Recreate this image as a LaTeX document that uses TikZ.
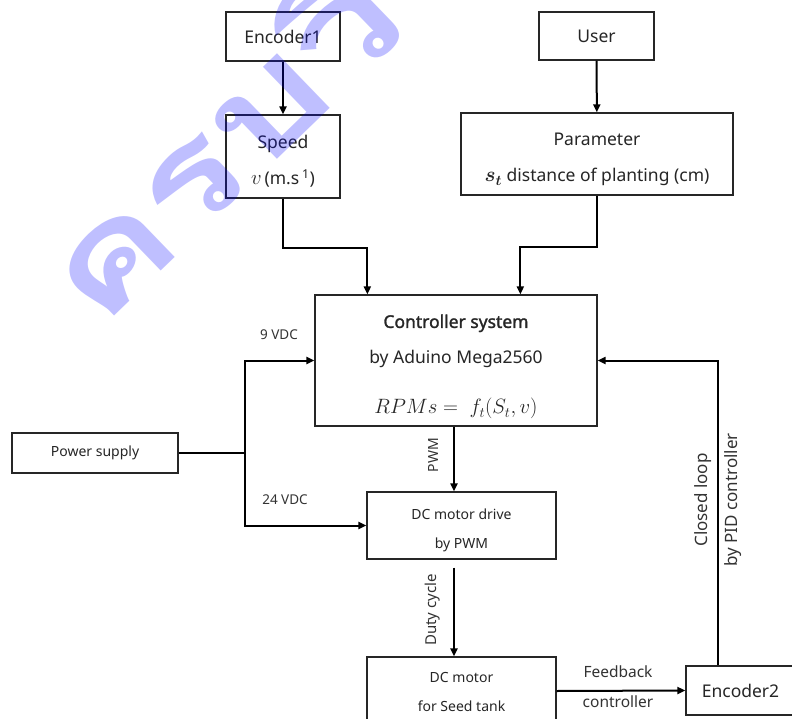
\documentclass[tikz,border=0pt]{standalone}
\usepackage{fontspec}
\usepackage{graphicx}
\setmainfont{Noto Sans}
\newfontfamily\semib[FakeBold=1.6]{Noto Sans}
\newfontfamily\thaifont[Script=Thai]{Loma}
\usepackage{bm}
\usetikzlibrary{arrows.meta,calc}
\tikzset{
  box/.style={draw=black!85, line width=1.3pt, fill=none, inner sep=0pt, align=center, text=black!85},
  big/.style={font=\fontsize{17.5}{36}\selectfont},
  small/.style={font=\fontsize{14}{29}\selectfont},
  lbl/.style={text=black!80, inner sep=0pt, font=\fontsize{13.5}{16}\selectfont},
  arr/.style={line width=2pt, -{Triangle[length=8pt,width=7pt]}},
  wire/.style={line width=2pt}
}
\begin{document}
\begin{tikzpicture}[x=1pt,y=-1pt]
\useasboundingbox (0,0) rectangle (792,719);
\clip (0,0) rectangle (792,719);
\fill[white] (0,0) rectangle (792,719);

% boxes
\node[box,big,minimum width=114pt,minimum height=49pt] (enc1) at (283,36.5) {Encoder1};
\node[box,big,minimum width=114pt,minimum height=83pt] (speed) at (283,156.5)
  {\rule{0pt}{23pt}Speed\\{\fontsize{21}{36}\selectfont$v$}\,(m.s\,\textsuperscript{1})};
\node[box,big,minimum width=115pt,minimum height=48pt] (user) at (596.5,36) {User};
\node[box,big,minimum width=272pt,minimum height=82pt] (param) at (597,154)
  {\rule{0pt}{24pt}Parameter\\{\fontsize{20}{36}\selectfont\boldmath$s_t$} distance of planting (cm)};
\node[box,big,minimum width=282pt,minimum height=131pt] (ctrl) at (456,360.5)
  {\rule{0pt}{26pt}{\semib Controller system}\\by Aduino Mega2560\\[14pt]{\fontsize{22}{30}\selectfont $RPMs =\ f_t(S_t,v)$}};
\node[box,small,minimum width=166pt,minimum height=40pt] (ps) at (95,453) {Power supply};
\node[box,small,minimum width=189pt,minimum height=67pt] (drive) at (461.5,525.5)
  {\rule{0pt}{20pt}DC motor drive\\by PWM};
\node[box,small,minimum width=189pt,minimum height=68pt] (motor) at (461.5,691)
  {\rule{0pt}{13pt}DC motor\\for Seed tank};
\node[box,big,minimum width=109pt,minimum height=49pt] (enc2) at (740.5,690.5) {Encoder2};

% connectors
\draw[arr] (enc1) -- (speed);
\draw[arr] (user) -- (param);
\draw[arr] (speed.south) -- ++(0,49) -| ($(ctrl.north west)+(53,0)$);
\draw[arr] (param.south) -- ++(0,51) -| ($(ctrl.north west)+(206,0)$);
\coordinate (j) at (245,453);
\draw[wire,line width=2.4pt] (ps.east) -- (j);
\draw[arr] (j) |- (ctrl.west);
\draw[arr] (j) |- (drive.west);
\coordinate (pwmtop) at ($(ctrl.south)+(-2,0)$);
\draw[arr] (pwmtop) -- (pwmtop |- drive.north);
\coordinate (dutytop) at ($(drive.south)+(-7.5,8)$);
\draw[arr] (dutytop) -- (dutytop |- motor.north);
\draw[arr] (motor.east) -- (enc2.west);
\coordinate (fbtop) at ($(enc2.north)+(-22.5,0)$);
\draw[arr] (fbtop) |- (ctrl.east);

% labels
\node[lbl] (l9) at (279,335) {9 VDC};
\node[lbl] (l24) at (285,500) {24 VDC};
\node[lbl,rotate=90,font=\fontsize{14}{16}\selectfont] (lpwm) at (433,455) {PWM};
\node[lbl,rotate=90,font=\fontsize{15}{16}\selectfont] (lduty) at (433,610) {Duty cycle};
\node[lbl,font=\fontsize{15.5}{16}\selectfont] (lfb) at (618,672) {Feedback};
\node[lbl,font=\fontsize{15.5}{16}\selectfont] (lfc) at (618,702) {controller};
\node[lbl,rotate=90,font=\fontsize{17}{18}\selectfont] (lcl) at (703,500) {Closed loop};
\node[lbl,rotate=90,font=\fontsize{17}{18}\selectfont] (lpid) at (733,500) {by PID controller};

% watermark
\node[rotate=44, anchor=base west, inner sep=0pt, text=blue, text opacity=0.25,
  font=\thaifont\bfseries\fontsize{130}{130}\selectfont] (wm) at (98,332) {\scalebox{1.4}[1.05]{ครบวิชาการ}};
\end{tikzpicture}
\end{document}
